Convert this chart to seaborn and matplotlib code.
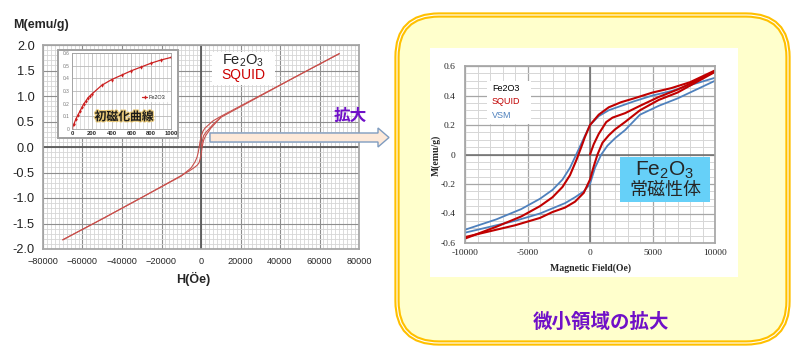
import numpy as np
import matplotlib.pyplot as plt
import seaborn as sns
from matplotlib.patches import FancyBboxPatch, Rectangle, Polygon
import matplotlib.patheffects as pe

# canvas size in pixels
W, H = 798, 355

# ---- left chart: full SQUID loop, M(emu/g) vs H(Oe) ----
left_desc_h = [70000, 50000, 30000, 10000, 6000, 4000, 2000, 1000, 0, -500,
               -1000, -1500, -2000, -3000, -5000, -10000, -30000, -50000, -70000]
left_desc_m = [1.83, 1.42, 1.01, 0.60, 0.51, 0.44, 0.37, 0.31, 0.20, 0.10,
               -0.02, -0.12, -0.20, -0.29, -0.41, -0.57, -0.99, -1.41, -1.82]
left_asc_h = [-70000, -50000, -30000, -10000, -6000, -4000, -2000, -1000, 0, 300,
              600, 1000, 1500, 2500, 5000, 10000, 30000, 50000, 70000]
left_asc_m = [-1.82, -1.41, -0.99, -0.56, -0.47, -0.42, -0.36, -0.31, -0.17, -0.08,
              0.0, 0.08, 0.15, 0.23, 0.37, 0.58, 1.00, 1.42, 1.83]
left_init_h = [0, 500, 1300, 2500, 4000, 6000, 10000]
left_init_m = [0, 0.09, 0.22, 0.29, 0.35, 0.44, 0.58]

left_xticks = [-80000, -60000, -40000, -20000, 0, 20000, 40000, 60000, 80000]
left_xlabels = ["\u221280000", "\u221260000", "\u221240000", "\u221220000", "0",
                "20000", "40000", "60000", "80000"]
left_yticks = [-2.0, -1.5, -1.0, -0.5, 0.0, 0.5, 1.0, 1.5, 2.0]
left_ylabels = ["-2.0", "-1.5", "-1.0", "-0.5", "0.0", "0.5", "1.0", "1.5", "2.0"]

# ---- inset: initial magnetisation curve ----
init_h = [0, 20, 40, 60, 80, 100, 120, 140, 160, 180, 200, 300, 400, 500, 600, 700, 800, 900, 1000]
init_m = [0, 0.04, 0.08, 0.11, 0.14, 0.17, 0.20, 0.22, 0.245, 0.26, 0.275,
          0.345, 0.39, 0.425, 0.46, 0.49, 0.52, 0.545, 0.565]
inset_xticks = [0, 200, 400, 600, 800, 1000]
inset_yticks = [0, 0.1, 0.2, 0.3, 0.4, 0.5, 0.6]
inset_ylabels = ["0", "0.1", "0.2", "0.3", "0.4", "0.5", "0.6"]

# ---- right chart: zoom of the small field region ----
squid_desc_h = [10000, 8000, 6500, 5000, 3500, 2500, 1500, 700, 0, -400, -700,
                -1100, -1600, -2200, -3000, -4000, -5500, -7500, -10000]
squid_desc_m = [0.57, 0.49, 0.45, 0.42, 0.38, 0.355, 0.32, 0.27, 0.20, 0.12, 0.05,
                -0.04, -0.14, -0.22, -0.29, -0.35, -0.42, -0.49, -0.57]
squid_asc_h = [-10000, -8000, -6000, -4000, -3000, -2000, -1200, -500, 0, 300, 600,
               1000, 1500, 2000, 2800, 4000, 5500, 7000, 8500, 10000]
squid_asc_m = [-0.56, -0.52, -0.48, -0.43, -0.39, -0.36, -0.32, -0.26, -0.17, -0.08, 0.0,
               0.08, 0.13, 0.17, 0.22, 0.30, 0.37, 0.42, 0.49, 0.56]
squid_init_h = [0, 300, 700, 1300, 1800, 2800, 4000, 5500, 7000, 8500, 10000]
squid_init_m = [0, 0.07, 0.14, 0.22, 0.25, 0.28, 0.33, 0.39, 0.44, 0.50, 0.565]

vsm_desc_h = [10000, 8000, 6500, 5000, 3500, 2500, 1500, 700, 0, -500, -1100,
              -1600, -2200, -3000, -4000, -5500, -7500, -10000]
vsm_desc_m = [0.52, 0.47, 0.43, 0.40, 0.36, 0.33, 0.30, 0.26, 0.20, 0.11, 0.0,
              -0.09, -0.17, -0.24, -0.30, -0.37, -0.44, -0.51]
vsm_asc_h = [-10000, -8000, -6000, -4000, -3000, -2000, -1200, -500, 0, 400, 900,
             1400, 2000, 2800, 4000, 5500, 7000, 8500, 10000]
vsm_asc_m = [-0.53, -0.49, -0.45, -0.40, -0.365, -0.33, -0.29, -0.25, -0.20, -0.09, 0.0,
             0.06, 0.11, 0.165, 0.27, 0.33, 0.38, 0.44, 0.50]

right_xticks = [-10000, -5000, 0, 5000, 10000]
right_xlabels = ["-10000", "-5000", "0", "5000", "10000"]
right_yticks = [-0.6, -0.4, -0.2, 0, 0.2, 0.4, 0.6]
right_ylabels = ["-0.6", "-0.4", "-0.2", "0", "0.2", "0.4", "0.6"]

RED_L = "#c8504c"
RED = "#c00000"
BLUE = "#4f81bd"
PURPLE = "#7010c8"
GOLD = "#ffc000"

sns.set_theme(style="white")
plt.rcParams['font.family'] = ['Liberation Sans', 'Noto Sans CJK JP']
plt.rcParams['mathtext.fontset'] = 'custom'
plt.rcParams['mathtext.rm'] = 'Liberation Sans'
plt.rcParams['mathtext.default'] = 'rm'
CJK = ['Noto Sans CJK JP', 'DejaVu Sans']
SERIF = 'Liberation Serif'


def px_rect(x0, y0, x1, y1):
    return [x0 / W, 1 - y1 / H, (x1 - x0) / W, (y1 - y0) / H]


def pixel_axes(z):
    a = fig.add_axes([0, 0, 1, 1])
    a.set_xlim(0, W)
    a.set_ylim(H, 0)
    a.axis('off')
    a.patch.set_alpha(0)
    a.set_zorder(z)
    return a


fig = plt.figure(figsize=(W / 100, H / 100), dpi=100)
fig.patch.set_facecolor('white')

# background: rounded yellow panel + white chart area
bg = pixel_axes(0)
bg.add_patch(FancyBboxPatch((397, 15), 391, 328, boxstyle="round,pad=0,rounding_size=42",
                            fc="#ffffcc", ec=GOLD, lw=3.8))
bg.add_patch(FancyBboxPatch((397, 15), 391, 328, boxstyle="round,pad=0,rounding_size=42",
                            fc="none", ec="white", lw=0.8))
bg.add_patch(Rectangle((430, 48), 308, 229, fc="white", ec="none"))

# ---- left chart ----
ax1 = fig.add_axes(px_rect(43, 45, 359, 249))
ax1.set_zorder(1)
ax1.set_facecolor('white')
for hh, mm in [(left_desc_h, left_desc_m), (left_asc_h, left_asc_m), (left_init_h, left_init_m)]:
    sns.lineplot(x=hh, y=mm, sort=False, estimator=None, color=RED_L, lw=0.8, ax=ax1)
ax1.set_xlim(-80000, 80000)
ax1.set_ylim(-2, 2)
ax1.set_xticks(left_xticks)
ax1.set_xticklabels(left_xlabels, fontsize=6.6)
ax1.set_yticks(left_yticks)
ax1.set_yticklabels(left_ylabels, fontsize=9.2, color='#222222')
ax1.set_xticks(np.arange(-80000, 80001, 2000), minor=True)
ax1.set_yticks(np.arange(-2, 2.01, 0.1), minor=True)
ax1.grid(which='minor', color='#d6d6d6', lw=0.6)
ax1.grid(which='major', color='#8e8e8e', lw=0.8)
ax1.axhline(0, color='#5a5a5a', lw=1.3, zorder=1.5)
ax1.axvline(0, color='#5a5a5a', lw=1.3, zorder=1.5)
ax1.tick_params(which='both', length=0)
ax1.tick_params(axis='y', pad=6)
ax1.tick_params(axis='x', pad=6)
for s in ax1.spines.values():
    s.set_color('#a6a6a6')
ax1.set_xlabel("")
ax1.set_ylabel("")

# ---- right chart ----
ax2 = fig.add_axes(px_rect(465, 66, 715, 243))
ax2.set_zorder(1)
ax2.set_facecolor('white')
for hh, mm in [(vsm_desc_h, vsm_desc_m), (vsm_asc_h, vsm_asc_m)]:
    sns.lineplot(x=hh, y=mm, sort=False, estimator=None, color=BLUE, lw=1.3, ax=ax2)
for hh, mm in [(squid_desc_h, squid_desc_m), (squid_asc_h, squid_asc_m), (squid_init_h, squid_init_m)]:
    sns.lineplot(x=hh, y=mm, sort=False, estimator=None, color=RED, lw=1.5, ax=ax2)
ax2.set_xlim(-10000, 10000)
ax2.set_ylim(-0.6, 0.6)
ax2.set_xticks(right_xticks)
ax2.set_xticklabels(right_xlabels, fontsize=6.8, family=SERIF)
ax2.set_yticks(right_yticks)
ax2.set_yticklabels(right_ylabels, fontsize=6.8, family=SERIF)
ax2.set_xticks(np.arange(-10000, 10001, 1000), minor=True)
ax2.set_yticks(np.arange(-0.6, 0.61, 0.05), minor=True)
ax2.grid(which='minor', color='#d6d6d6', lw=0.7)
ax2.grid(which='major', color='#a6a6a6', lw=0.9)
ax2.axhline(0, color='#6a6a6a', lw=1.1, zorder=1.5)
ax2.axvline(0, color='#6a6a6a', lw=1.1, zorder=1.5)
ax2.tick_params(which='both', length=0)
ax2.tick_params(axis='y', pad=7)
ax2.tick_params(axis='x', pad=4)
for s in ax2.spines.values():
    s.set_color('#a6a6a6')
ax2.set_xlabel("")
ax2.set_ylabel("")

# ---- overlay: boxes, labels, arrow ----
ov = pixel_axes(2)
ov.text(41, 25, "M(emu/g)", fontsize=9, fontweight='bold', ha='center', va='center')
ov.text(193, 279, "H(\u00d6e)", fontsize=9, fontweight='bold', ha='center', va='center')

# inset frame
ov.add_patch(Rectangle((58, 50), 120, 88, fc='white', ec='#a0a0a0', lw=1.4))

# Fe2O3 / SQUID label on the left chart
ov.add_patch(Rectangle((212, 52), 63, 33, fc='white', ec='none'))
ov.text(243.5, 60.5, "Fe$_2$O$_3$", fontsize=10.5, ha='center', va='center')
ov.text(243.5, 74.5, "SQUID", fontsize=10, color='#cc0000', ha='center', va='center')

# arrow towards the zoom panel
ov.add_patch(Polygon([(210, 133), (378, 133), (378, 128), (389, 137.5), (378, 147),
                      (378, 142), (210, 142)], closed=True, fc="#fde9d9", ec="#7f9cc0", lw=1))
ov.text(350, 116, "拡大", fontsize=12, fontweight='bold', color=PURPLE,
        ha='center', va='center', family=CJK)

# right chart labels
ov.text(591, 268, "Magnetic Field(Oe)", fontsize=7, fontweight='bold', family=SERIF,
        ha='center', va='center')
ov.text(436, 155, "M(emu/g)", fontsize=7, fontweight='bold', family=SERIF,
        ha='center', va='center', rotation=90)

# right chart legend text
ov.add_patch(Rectangle((487, 81), 44, 43, fc='white', ec='none'))
ov.text(492, 88.5, "Fe2O3", fontsize=6.5, color='black', va='center')
ov.text(492, 101.5, "SQUID", fontsize=6.5, color=RED, va='center')
ov.text(492, 115, "VSM", fontsize=6.5, color=BLUE, va='center')

# cyan label box
ov.add_patch(Rectangle((620, 157), 90, 45, fc="#66d0f8", ec='none'))
ov.text(665, 170, "Fe$_2$O$_3$", fontsize=15, ha='center', va='center')
ov.text(665, 190, "常磁性体", fontsize=13, ha='center', va='center', family=CJK)

ov.text(601, 322, "微小領域の拡大", fontsize=14, fontweight='bold', color=PURPLE,
        ha='center', va='center', family=CJK)

# ---- inset chart ----
ins = fig.add_axes(px_rect(72, 53, 171, 129))
ins.set_zorder(3)
ins.set_facecolor('white')
sns.lineplot(x=init_h, y=init_m, sort=False, estimator=None, color='#cc2222', lw=0.9,
             marker='d', markersize=2.2, markeredgewidth=0, label="Fe2O3", ax=ins)
ins.set_xlim(0, 1000)
ins.set_ylim(0, 0.6)
ins.set_xticks(inset_xticks)
ins.set_xticklabels([str(v) for v in inset_xticks], fontsize=4.2, fontweight='bold')
ins.set_yticks(inset_yticks)
ins.set_yticklabels(inset_ylabels, fontsize=3.5, color='#777777')
ins.set_xticks(np.arange(0, 1001, 40), minor=True)
ins.grid(which='minor', axis='x', color='#d0d0d0', lw=0.5)
ins.grid(which='major', color='#b8b8b8', lw=0.6)
ins.tick_params(which='both', length=0, pad=1.5)
for s in ins.spines.values():
    s.set_color('#a0a0a0')
    s.set_linewidth(0.6)
ins.set_xlabel("")
ins.set_ylabel("")
leg = ins.legend(loc='center left', bbox_to_anchor=(0.66, 0.42), fontsize=4,
                 frameon=True, handlelength=1.0, handletextpad=0.2, borderpad=0.3,
                 fancybox=False, edgecolor='white')
ins.text(0.525, 0.16, "初磁化曲線", transform=ins.transAxes, fontsize=8.5, fontweight='bold',
         ha='center', va='center', family=CJK, color='#1a1a1a',
         path_effects=[pe.withStroke(linewidth=1.6, foreground='#e8c878')])

fig.savefig("out.png", dpi=100)
